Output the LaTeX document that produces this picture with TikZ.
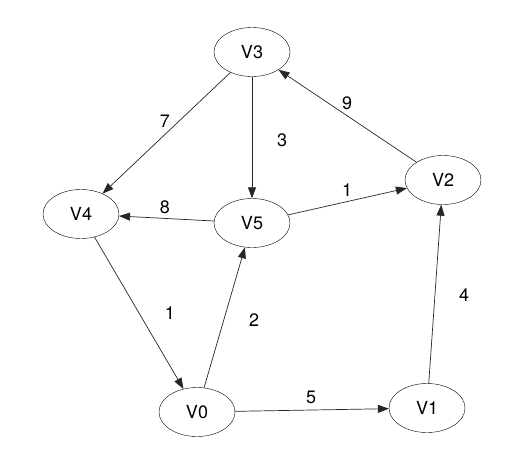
\documentclass[tikz,border=0pt]{standalone}
\usepackage{fontspec}
\setmainfont{TeX Gyre Heros}
\usetikzlibrary{shapes.geometric, arrows.meta}

\begin{document}
\begin{tikzpicture}[
        x=1pt, y=-1pt,
        vertex/.style={draw, ellipse, minimum width=76pt, minimum height=49pt, inner sep=0pt, font=\fontsize{18}{20}\selectfont},
        weight/.style={font=\fontsize{18}{20}\selectfont},
        edge/.style={->, line width=0.7pt, draw=black!85},
        >={Triangle[length=11pt, width=8pt]}
    ]
        \useasboundingbox (0,0) rectangle (505,448);

        \node[vertex] (v3) at (252,52) {V3};
        \node[vertex] (v4) at (81,214) {V4};
        \node[vertex] (v5) at (252,223) {V5};
        \node[vertex] (v2) at (443,180) {V2};
        \node[vertex] (v0) at (197,412) {V0};
        \node[vertex] (v1) at (427,408) {V1};

        \draw[edge] (v3) -- (v4);
        \draw[edge] (v3) -- (v5);
        \draw[edge] (v2) -- (v3);
        \draw[edge] (v5) -- (v2);
        \draw[edge] (v5) -- (v4);
        \draw[edge] (v4) -- (v0);
        \draw[edge] (v0) -- (v5);
        \draw[edge] (v0) -- (v1);
        \draw[edge] (v1) -- (v2);

        % weights
        \node[weight] (w34) at (165,121) {7};
        \node[weight] (w35) at (282,140) {3};
        \node[weight] (w23) at (347,103) {9};
        \node[weight] (w52) at (347,190) {1};
        \node[weight] (w54) at (165,207) {8};
        \node[weight] (w40) at (170,313) {1};
        \node[weight] (w05) at (254,320) {2};
        \node[weight] (w01) at (311,397) {5};
        \node[weight] (w12) at (464,295) {4};
    \end{tikzpicture}
\end{document}
